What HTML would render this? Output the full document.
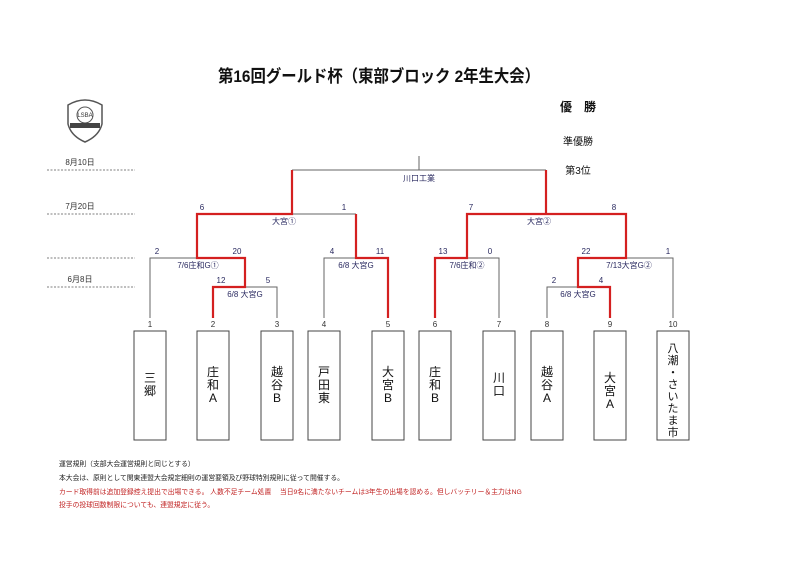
<!DOCTYPE html>
<html><head><meta charset="utf-8"><style>
html,body{margin:0;padding:0;background:#fff;width:800px;height:565px;overflow:hidden}
svg{display:block}
text{font-family:"Liberation Sans","Noto Sans CJK JP",sans-serif}
.s{font-size:8px;fill:#2a2a60}
.n{font-size:8px;fill:#333}
.b{font-size:12px;fill:#111}
.f{font-size:6.8px}
</style></head><body>
<svg width="800" height="565" viewBox="0 0 800 565" xmlns="http://www.w3.org/2000/svg">
<text x="379" y="82" text-anchor="middle" textLength="322" lengthAdjust="spacingAndGlyphs" style="font-size:17px;font-weight:bold" fill="#111">第16回グールド杯（東部ブロック 2年生大会）</text>
<text x="578" y="111" text-anchor="middle" style="font-size:12px;font-weight:bold" fill="#111">優　勝</text>
<text x="578" y="145" text-anchor="middle" style="font-size:10px" fill="#111">準優勝</text>
<text x="578" y="174" text-anchor="middle" style="font-size:10px" fill="#111">第3位</text>
<!-- logo -->
<g transform="translate(85,122)">
<path d="M-17,-17 Q0,-27 17,-17 L17,2 Q14,14 0,20 Q-14,14 -17,2 Z" fill="#fff" stroke="#555" stroke-width="1.5"/>
<circle cx="0" cy="-7" r="8" fill="#fff" stroke="#555"/>
<rect x="-15" y="1" width="30" height="5" fill="#444"/>
<text x="0" y="-5" text-anchor="middle" style="font-size:6px" fill="#333">LSBA</text>
</g>
<!-- date lines -->
<g stroke="#555" stroke-width="0.8" stroke-dasharray="2,1.5">
<line x1="47" y1="170" x2="135" y2="170"/><line x1="47" y1="214" x2="135" y2="214"/>
<line x1="47" y1="258" x2="135" y2="258"/><line x1="47" y1="287" x2="135" y2="287"/>
</g>
<text x="80" y="165" class="n" text-anchor="middle">8月10日</text>
<text x="80" y="209" class="n" text-anchor="middle">7月20日</text>
<text x="80" y="282" class="n" text-anchor="middle">6月8日</text>
<!-- grey lines -->
<g stroke="#666" stroke-width="1" fill="none">
<path d="M419,156V170M292,170H546"/>
<path d="M292,214H356"/>
<path d="M150,318V258H197M245,287H277V318"/>
<path d="M324,318V258H356"/>
<path d="M467,258H499V318"/>
<path d="M547,318V287H578M626,258H673V318"/>
</g>
<!-- red lines -->
<g stroke="#d42020" stroke-width="2.2" fill="none">
<path d="M213,318V287H245V258H197V214H292V170"/>
<path d="M388,318V258H356V214"/>
<path d="M435,318V258H467V214H626V258H578V287H610V318"/>
<path d="M546,214V170"/>
</g>
<!-- labels -->
<text x="419" y="181" class="s" text-anchor="middle">川口工業</text>
<text x="202" y="210" class="s" text-anchor="middle">6</text>
<text x="344" y="210" class="s" text-anchor="middle">1</text>
<text x="284" y="224" class="s" text-anchor="middle">大宮①</text>
<text x="471" y="210" class="s" text-anchor="middle">7</text>
<text x="614" y="210" class="s" text-anchor="middle">8</text>
<text x="539" y="224" class="s" text-anchor="middle">大宮②</text>
<text x="157" y="254" class="s" text-anchor="middle">2</text>
<text x="237" y="254" class="s" text-anchor="middle">20</text>
<text x="198" y="268" class="s" text-anchor="middle">7/6庄和G①</text>
<text x="221" y="283" class="s" text-anchor="middle">12</text>
<text x="268" y="283" class="s" text-anchor="middle">5</text>
<text x="245" y="297" class="s" text-anchor="middle">6/8 大宮G</text>
<text x="332" y="254" class="s" text-anchor="middle">4</text>
<text x="380" y="254" class="s" text-anchor="middle">11</text>
<text x="356" y="268" class="s" text-anchor="middle">6/8 大宮G</text>
<text x="443" y="254" class="s" text-anchor="middle">13</text>
<text x="490" y="254" class="s" text-anchor="middle">0</text>
<text x="467" y="268" class="s" text-anchor="middle">7/6庄和②</text>
<text x="586" y="254" class="s" text-anchor="middle">22</text>
<text x="668" y="254" class="s" text-anchor="middle">1</text>
<text x="629" y="268" class="s" text-anchor="middle">7/13大宮G②</text>
<text x="554" y="283" class="s" text-anchor="middle">2</text>
<text x="601" y="283" class="s" text-anchor="middle">4</text>
<text x="578" y="297" class="s" text-anchor="middle">6/8 大宮G</text>
<!-- leaf numbers -->
<g text-anchor="middle">
<text x="150" y="327" class="n">1</text><text x="213" y="327" class="n">2</text><text x="277" y="327" class="n">3</text>
<text x="324" y="327" class="n">4</text><text x="388" y="327" class="n">5</text><text x="435" y="327" class="n">6</text>
<text x="499" y="327" class="n">7</text><text x="547" y="327" class="n">8</text><text x="610" y="327" class="n">9</text>
<text x="673" y="327" class="n">10</text>
</g>
<!-- boxes -->
<g fill="#fff" stroke="#444" stroke-width="1">
<rect x="134" y="331" width="32" height="109"/><rect x="197" y="331" width="32" height="109"/>
<rect x="261" y="331" width="32" height="109"/><rect x="308" y="331" width="32" height="109"/>
<rect x="372" y="331" width="32" height="109"/><rect x="419" y="331" width="32" height="109"/>
<rect x="483" y="331" width="32" height="109"/><rect x="531" y="331" width="32" height="109"/>
<rect x="594" y="331" width="32" height="109"/><rect x="657" y="331" width="32" height="109"/>
</g>
<g text-anchor="middle">
<text class="b" x="150" y="382">三</text><text class="b" x="150" y="395">郷</text>
<text class="b" x="213" y="376">庄</text><text class="b" x="213" y="389">和</text><text class="b" x="213" y="402">A</text>
<text class="b" x="277" y="376">越</text><text class="b" x="277" y="389">谷</text><text class="b" x="277" y="402">B</text>
<text class="b" x="324" y="376">戸</text><text class="b" x="324" y="389">田</text><text class="b" x="324" y="402">東</text>
<text class="b" x="388" y="376">大</text><text class="b" x="388" y="389">宮</text><text class="b" x="388" y="402">B</text>
<text class="b" x="435" y="376">庄</text><text class="b" x="435" y="389">和</text><text class="b" x="435" y="402">B</text>
<text class="b" x="499" y="382">川</text><text class="b" x="499" y="395">口</text>
<text class="b" x="547" y="376">越</text><text class="b" x="547" y="389">谷</text><text class="b" x="547" y="402">A</text>
<text class="b" x="610" y="382">大</text><text class="b" x="610" y="395">宮</text><text class="b" x="610" y="408">A</text>
<g style="font-size:11px" fill="#111">
<text x="673" y="352">八</text><text x="673" y="364">潮</text><text x="673" y="376">・</text>
<text x="673" y="388">さ</text><text x="673" y="400">い</text><text x="673" y="412">た</text>
<text x="673" y="424">ま</text><text x="673" y="436">市</text>
</g>
</g>
<!-- footer -->
<text x="59" y="466" class="f" fill="#222">運営規則（支部大会運営規則と同じとする）</text>
<text x="59" y="480" class="f" fill="#222">本大会は、原則として関東連盟大会規定細則の運営要領及び野球特別規則に従って開催する。</text>
<text x="59" y="494" class="f" fill="#c02020">カード取得前は追加登録控え提出で出場できる。 人数不足チーム処置　 当日9名に満たないチームは3年生の出場を認める。但しバッテリー＆主力はNG</text>
<text x="59" y="507" class="f" fill="#c02020">投手の投球回数制限についても、連盟規定に従う。</text>
</svg>
</body></html>
